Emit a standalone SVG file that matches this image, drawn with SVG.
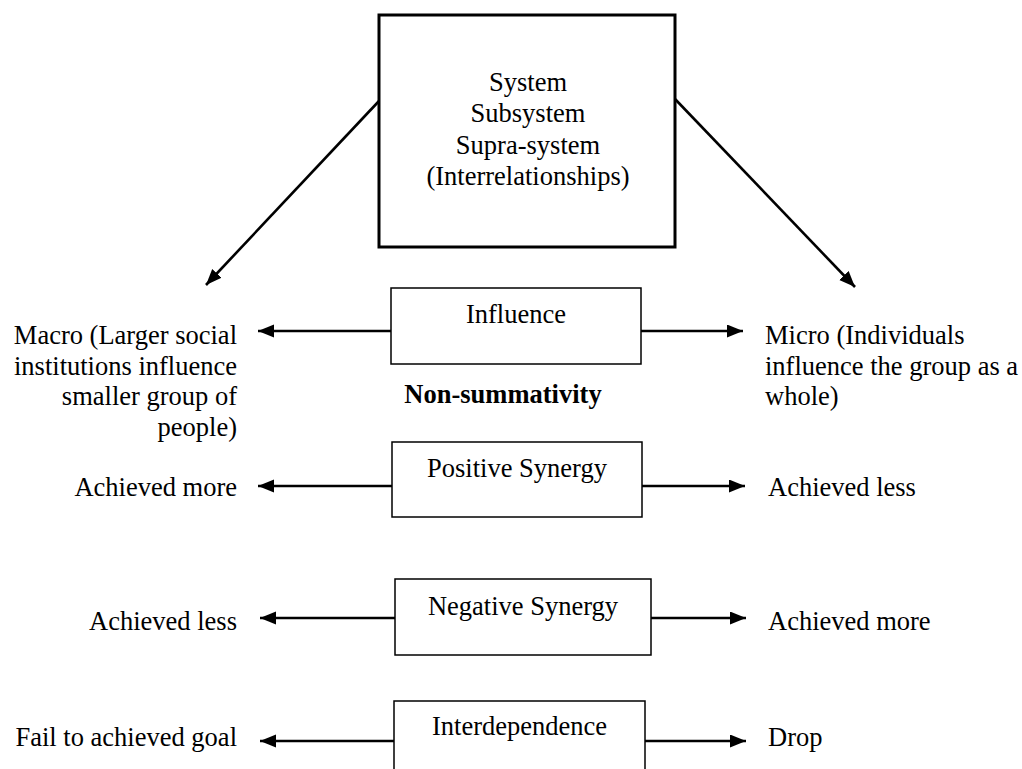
<svg xmlns="http://www.w3.org/2000/svg" width="1022" height="769" viewBox="0 0 1022 769">
<style>
text{font-family:"Liberation Serif","Times New Roman",serif;font-size:26.5px;fill:#000}
.c{text-anchor:middle}
.r{text-anchor:end}
.b{font-weight:bold}
.main{fill:#fff;stroke:#000;stroke-width:3}
.box{fill:#fff;stroke:#000;stroke-width:1.5}
.conn line{stroke:#000;stroke-width:2.6;marker-end:url(#ah)}
</style>
<defs>
<marker id="ah" markerUnits="userSpaceOnUse" markerWidth="17" markerHeight="14" refX="16" refY="6.5" orient="auto">
<path d="M0,0 L16,6.5 L0,13 z" fill="#000"/>
</marker>
</defs>
<rect width="1022" height="769" fill="#fff"/>
<g class="conn" id="connectors">
<line x1="379" y1="101" x2="206" y2="285"/>
<line x1="675" y1="99" x2="855" y2="287"/>
<line x1="391" y1="331" x2="258" y2="331"/>
<line x1="641" y1="331" x2="743" y2="331"/>
<line x1="392" y1="486" x2="258" y2="486"/>
<line x1="642" y1="486" x2="745" y2="486"/>
<line x1="395" y1="618" x2="260" y2="618"/>
<line x1="651" y1="618" x2="746" y2="618"/>
<line x1="394" y1="741" x2="260" y2="741"/>
<line x1="645" y1="741" x2="746" y2="741"/>
</g>
<g id="system">
<rect class="main" x="379" y="15" width="296" height="232"/>
<text class="c" x="528" y="91">System</text>
<text class="c" x="528" y="122">Subsystem</text>
<text class="c" x="528" y="154">Supra-system</text>
<text class="c" x="528" y="185">(Interrelationships)</text>
</g>
<g id="influence">
<rect class="box" x="391" y="288" width="250" height="76"/>
<text class="c" x="516" y="323">Influence</text>
</g>
<g id="macro">
<text class="r" x="237" y="344">Macro (Larger social</text>
<text class="r" x="237" y="374.5">institutions influence</text>
<text class="r" x="237" y="405">smaller group of</text>
<text class="r" x="237" y="435.5">people)</text>
</g>
<g id="micro">
<text x="765" y="344">Micro (Individuals</text>
<text x="765" y="374.5">influence the group as a</text>
<text x="765" y="405">whole)</text>
</g>
<g id="nonsummativity">
<text class="c b" x="503" y="403">Non-summativity</text>
</g>
<g id="positive">
<rect class="box" x="392" y="442" width="250" height="75"/>
<text class="c" x="517" y="477">Positive Synergy</text>
</g>
<g id="pos-left"><text class="r" x="237" y="496">Achieved more</text></g>
<g id="pos-right"><text x="768" y="496">Achieved less</text></g>
<g id="negative">
<rect class="box" x="395" y="579" width="256" height="76"/>
<text class="c" x="523" y="615">Negative Synergy</text>
</g>
<g id="neg-left"><text class="r" x="237" y="630">Achieved less</text></g>
<g id="neg-right"><text x="768" y="630">Achieved more</text></g>
<g id="interdependence">
<rect class="box" x="394" y="701" width="251" height="80"/>
<text class="c" x="519.5" y="735">Interdependence</text>
</g>
<g id="int-left"><text class="r" x="237" y="746">Fail to achieved goal</text></g>
<g id="int-right"><text x="768" y="746">Drop</text></g>
</svg>
